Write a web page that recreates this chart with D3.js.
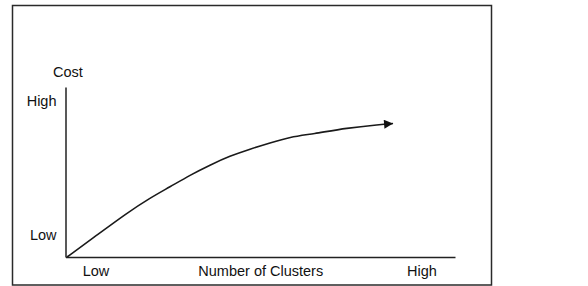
<!DOCTYPE html>
<html>
<head>
<meta charset="utf-8">
<script src="https://cdn.jsdelivr.net/npm/d3@7"></script>
<style>
  body { margin: 0; background: #fff; }
  svg text { font-family: "Liberation Sans", Arial, sans-serif; font-size: 14.5px; fill: #111; }
</style>
</head>
<body>
<div id="chart"></div>
<script>
// curve: number of clusters (0-100) vs cost (0-100)
const clusters = [0.4, 7.1, 15.8, 21.7, 26.8, 32.0, 37.1, 42.2, 47.4, 52.5, 57.6, 63.5, 72.3, 80.7, 84.1];
const cost     = [0,   11.2, 25.9, 34.7, 41.2, 48.2, 54.1, 59.4, 63.5, 67.1, 70.6, 72.4, 75.9, 77.9, 78.5];

// axis labels and where they sit along each axis
const xTickValues = [7.7, 50, 91.4];
const xTickLabels = ['Low', 'Number of Clusters', 'High'];
const yTickValues = [13, 91.8];
const yTickLabels = ['Low', 'High'];
const yTitle = 'Cost';

const width = 588, height = 286;
const svg = d3.select('#chart').append('svg')
    .attr('width', width)
    .attr('height', height);

// frame round the figure
svg.append('rect')
    .attr('x', 12.5).attr('y', 5.5)
    .attr('width', 479).attr('height', 279.5)
    .attr('fill', 'none')
    .attr('stroke', '#2a2a2a')
    .attr('stroke-width', 1.5);

let xScale = d3.scaleLinear().domain([0, 100]).range([65.5, 455]);
let yScale = d3.scaleLinear().domain([0, 100]).range([257, 87]);

let xAxis = svg.append('g')
    .attr('transform', `translate(0,${yScale(0)})`)
    .call(d3.axisBottom(xScale)
        .tickValues(xTickValues)
        .tickFormat((d, i) => xTickLabels[i])
        .tickSize(0).tickPadding(9));

let yAxis = svg.append('g')
    .attr('transform', `translate(${xScale(0)},0)`)
    .call(d3.axisLeft(yScale)
        .tickValues(yTickValues)
        .tickFormat((d, i) => yTickLabels[i])
        .tickSize(0).tickPadding(9));

svg.selectAll('.domain').attr('stroke', '#222').attr('stroke-width', 1.5);
svg.selectAll('.tick text').attr('fill', '#111');

svg.append('text')
    .attr('x', 68).attr('y', 77)
    .attr('text-anchor', 'middle')
    .text(yTitle);

// arrow head
svg.append('defs').append('marker')
    .attr('id', 'arrow')
    .attr('viewBox', '0 0 10 10')
    .attr('refX', 10).attr('refY', 5)
    .attr('markerUnits', 'userSpaceOnUse')
    .attr('markerWidth', 11).attr('markerHeight', 9)
    .attr('orient', 'auto')
    .append('path')
    .attr('d', 'M0,0L10,5L0,10Z')
    .attr('fill', '#111');

let lineGen = d3.line()
    .x((d, i) => xScale(clusters[i]))
    .y((d, i) => yScale(cost[i]))
    .curve(d3.curveBasis);

svg.append('path')
    .attr('d', lineGen(clusters))
    .attr('fill', 'none')
    .attr('stroke', '#1a1a1a')
    .attr('stroke-width', 1.6)
    .attr('marker-end', 'url(#arrow)');
</script>
</body>
</html>
